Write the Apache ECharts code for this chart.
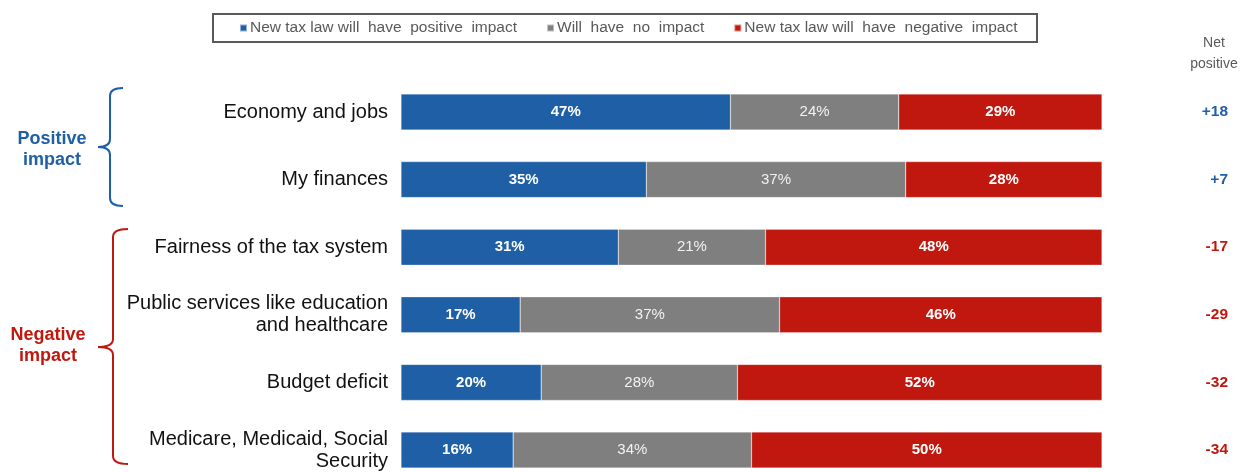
<!DOCTYPE html>
<html>
<head>
<meta charset="utf-8">
<script src="https://cdn.jsdelivr.net/npm/echarts@6/dist/echarts.min.js"></script>
<style>
  html, body { margin: 0; padding: 0; background: #fff; }
  #chart { width: 1244px; height: 472px; }
</style>
</head>
<body>
<div id="chart"></div>
<script>
(function() {
  var categories = [
    "Economy and jobs",
    "My finances",
    "Fairness of the tax system",
    "Public services like education\nand healthcare",
    "Budget deficit",
    "Medicare, Medicaid, Social\nSecurity"
  ];
  var seriesNames = [
    "New tax law will  have  positive  impact",
    "Will  have  no  impact",
    "New tax law will  have  negative  impact"
  ];
  var positive = [47, 35, 31, 17, 20, 16];
  var noImpact = [24, 37, 21, 37, 28, 34];
  var negative = [29, 28, 48, 46, 52, 50];
  var netPositive = ["+18", "+7", "-17", "-29", "-32", "-34"];

  var BLUE = "#1f5fa6";
  var GRAY = "#7f7f7f";
  var RED = "#c0180e";
  var FONT = "Liberation Sans, Arial, sans-serif";

  var myChart = echarts.init(document.getElementById("chart"));

  function barSeries(name, data, color, bold) {
    return {
      name: name,
      type: "bar",
      stack: "total",
      barWidth: 36,
      clip: false,
      data: data,
      itemStyle: { color: color, borderColor: "rgba(255,255,255,0.5)", borderWidth: 0.5 },
      label: {
        show: true,
        position: "inside",
        formatter: "{c}%",
        color: bold ? "#fff" : "#f2f2f2",
        fontWeight: bold ? "bold" : "normal",
        fontSize: 15,
        fontFamily: FONT
      },
      emphasis: { disabled: true }
    };
  }

  // curly brace: x = spine, tipX = middle point, hookX = end of top/bottom hooks
  function brace(x, tipX, hookX, y1, yMid, y2, color) {
    var st = { fill: null, stroke: color, lineWidth: 2 };
    var r = 8;
    return [
      { type: "bezierCurve", shape: { x1: hookX, y1: y1, cpx1: x, cpy1: y1, x2: x, y2: y1 + r }, style: st },
      { type: "line", shape: { x1: x, y1: y1 + r, x2: x, y2: yMid - r }, style: st },
      { type: "bezierCurve", shape: { x1: x, y1: yMid - r, cpx1: x, cpy1: yMid, x2: tipX, y2: yMid }, style: st },
      { type: "bezierCurve", shape: { x1: tipX, y1: yMid, cpx1: x, cpy1: yMid, x2: x, y2: yMid + r }, style: st },
      { type: "line", shape: { x1: x, y1: yMid + r, x2: x, y2: y2 - r }, style: st },
      { type: "bezierCurve", shape: { x1: x, y1: y2 - r, cpx1: x, cpy1: y2, x2: hookX, y2: y2 }, style: st }
    ];
  }

  var graphics = [
    {
      type: "rect",
      shape: { x: 213, y: 14, width: 824, height: 28 },
      style: { fill: null, stroke: "#595959", lineWidth: 2 }
    },
    {
      type: "text",
      x: 1214, y: 33,
      style: {
        text: "Net\npositive", fill: "#595959", fontSize: 14, lineHeight: 21,
        align: "center", fontFamily: FONT
      }
    },
    {
      type: "text",
      x: 52, y: 129,
      style: {
        text: "Positive\nimpact", fill: BLUE, fontSize: 18, fontWeight: "bold", lineHeight: 21,
        align: "center", fontFamily: FONT
      }
    },
    {
      type: "text",
      x: 48, y: 325,
      style: {
        text: "Negative\nimpact", fill: RED, fontSize: 18, fontWeight: "bold", lineHeight: 21,
        align: "center", fontFamily: FONT
      }
    }
  ].concat(
    brace(110, 98, 123, 88, 147, 206, BLUE),
    brace(113, 98, 128, 229, 347, 464, RED)
  );

  var option = {
    animation: false,
    textStyle: { fontFamily: FONT },
    legend: {
      left: 239,
      top: 20,
      padding: 0,
      icon: "rect",
      itemWidth: 7,
      itemHeight: 7,
      itemGap: 29,
      textStyle: { color: "#595959", fontSize: 15.5, fontFamily: FONT, padding: [0, 0, 0, -2] },
      data: seriesNames
    },
    // category centres sit on ticks (boundaryGap false) so the last row can run to the bottom edge
    grid: { left: 401, width: 701, top: 112, height: 339 },
    xAxis: { type: "value", min: 0, max: 100, show: false },
    yAxis: [
      {
        type: "category",
        inverse: true,
        boundaryGap: false,
        data: categories,
        axisLine: { show: false },
        axisTick: { show: false },
        splitLine: { show: false },
        axisLabel: {
          margin: 13,
          fontSize: 20,
          lineHeight: 22,
          color: "#111",
          fontFamily: FONT
        }
      },
      {
        type: "category",
        inverse: true,
        boundaryGap: false,
        position: "right",
        data: categories,
        axisLine: { show: false },
        axisTick: { show: false },
        splitLine: { show: false },
        axisLabel: {
          margin: 126,
          align: "right",
          fontSize: 15.5,
          fontWeight: "bold",
          fontFamily: FONT,
          padding: [0, 0, 4, 0],
          formatter: function(v, i) { return netPositive[i]; },
          color: function(v, i) { return netPositive[i].charAt(0) === "+" ? BLUE : RED; }
        }
      }
    ],
    graphic: graphics,
    series: [
      barSeries(seriesNames[0], positive, BLUE, true),
      barSeries(seriesNames[1], noImpact, GRAY, false),
      barSeries(seriesNames[2], negative, RED, true)
    ]
  };
  myChart.setOption(option);
})();
</script>
</body>
</html>
